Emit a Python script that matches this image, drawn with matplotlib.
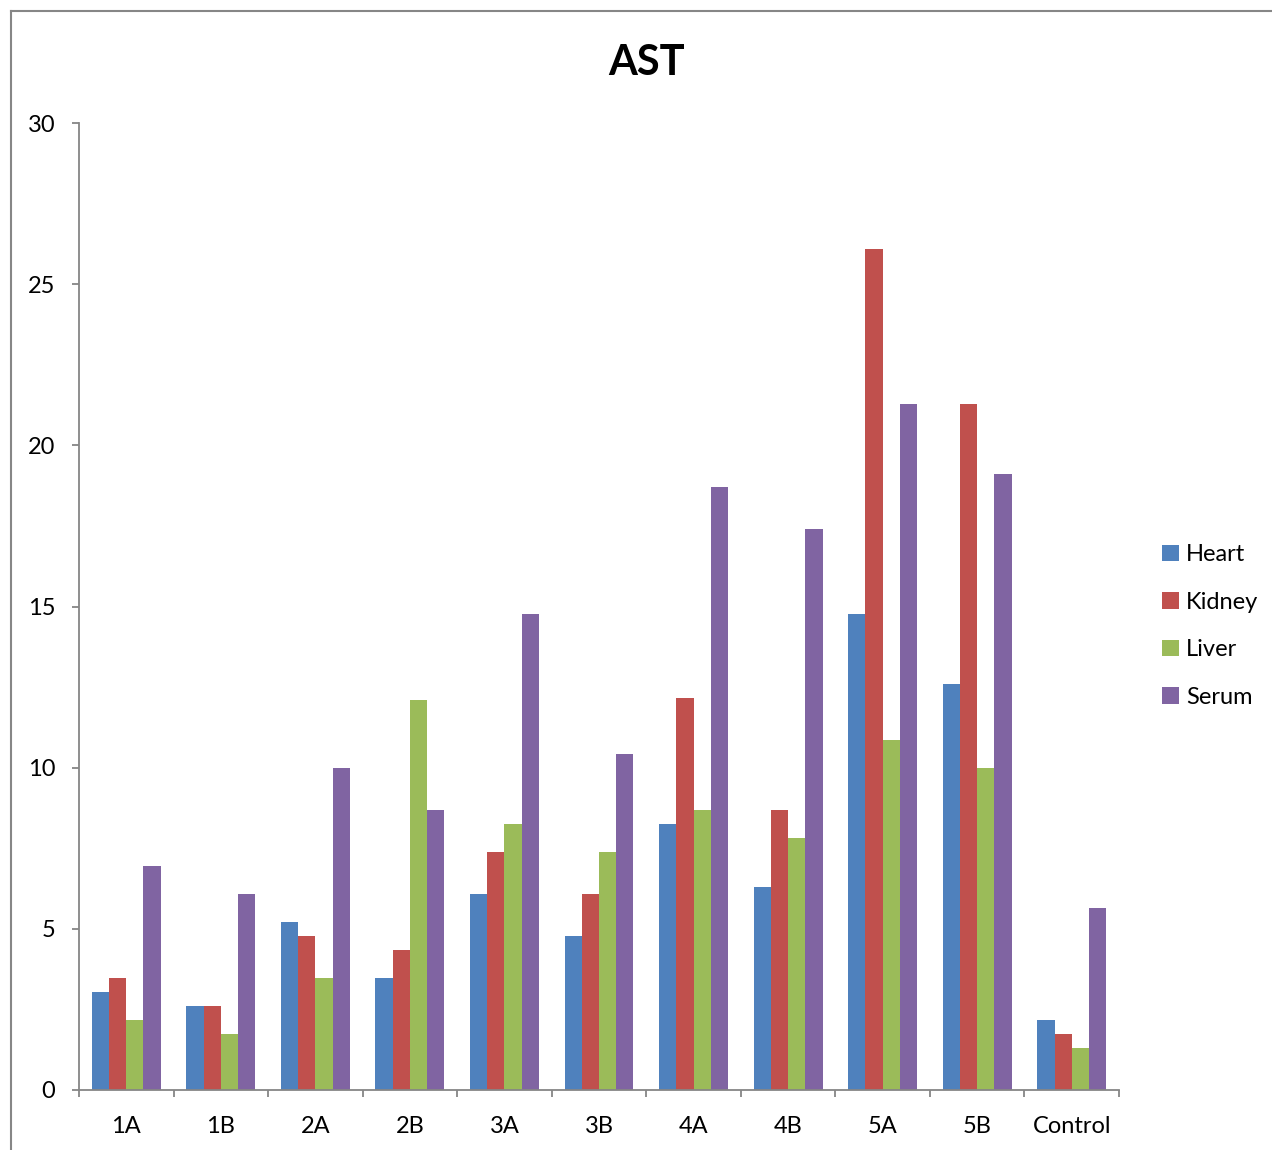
import matplotlib
matplotlib.use("Agg")
import matplotlib.pyplot as plt
import numpy as np
from matplotlib.lines import Line2D
from matplotlib.patches import Patch

plt.rcParams['font.family'] = ['Lato', 'DejaVu Sans']

categories = ['1A', '1B', '2A', '2B', '3A', '3B', '4A', '4B', '5A', '5B', 'Control']
heart  = [3.04, 2.60, 5.21, 3.47, 6.08, 4.78, 8.25, 6.30, 14.77, 12.60, 2.17]
kidney = [3.47, 2.60, 4.78, 4.34, 7.38, 6.08, 12.16, 8.69, 26.09, 21.28, 1.74]
liver  = [2.17, 1.74, 3.47, 12.10, 8.25, 7.38, 8.69, 7.82, 10.86, 9.99, 1.30]
serum  = [6.95, 6.08, 9.99, 8.69, 14.77, 10.43, 18.71, 17.41, 21.28, 19.11, 5.65]

series_names = ['Heart', 'Kidney', 'Liver', 'Serum']
series = [heart, kidney, liver, serum]
colors = ['#4F81BD', '#C0504D', '#9BBB59', '#8064A2']

W, H = 1272, 1150
fig = plt.figure(figsize=(W / 100, H / 100), dpi=100)
ax = fig.add_axes([79 / W, 60 / H, (1119 - 79) / W, (1090 - 123) / H])

x = np.arange(len(categories))
bw = 0.182
for i, (vals, c) in enumerate(zip(series, colors)):
    ax.bar(x + (i - 1.5) * bw, vals, width=bw, color=c, linewidth=0)

axis_gray = '#868686'
ax.set_xlim(-0.5, len(categories) - 0.5)
ax.set_ylim(0, 30)
ax.set_yticks(range(0, 31, 5))
ax.set_xticks(x)
ax.set_xticklabels(categories)
ax.set_xticks(np.arange(-0.5, len(categories), 1.0), minor=True)

for side in ['top', 'right']:
    ax.spines[side].set_visible(False)
for side in ['left', 'bottom']:
    ax.spines[side].set_color(axis_gray)
    ax.spines[side].set_linewidth(1.3)

ax.tick_params(axis='y', direction='out', length=5, width=1.3, color=axis_gray,
               labelsize=17, pad=12)
ax.tick_params(axis='x', which='major', length=0, labelsize=17, pad=18.5)
ax.tick_params(axis='x', which='minor', direction='out', length=5, width=1.3,
               color=axis_gray)

fig.text(647 / W, 1 - 63 / H, 'AST', ha='center', va='center',
         fontsize=30, fontweight='bold')

handles = [Patch(facecolor=c, edgecolor='none') for c in colors]
fig.legend(handles, series_names, loc='center left',
           bbox_to_anchor=(1153 / W, 1 - 626 / H), frameon=False,
           fontsize=17, handlelength=0.7, handleheight=0.7,
           handletextpad=0.3, labelspacing=1.12, borderaxespad=0)

# outer chart frame
fig.add_artist(Line2D([11 / W, 1.0], [1 - 11 / H, 1 - 11 / H],
                      transform=fig.transFigure, color=axis_gray, linewidth=1.5))
fig.add_artist(Line2D([11 / W, 11 / W], [0.0, 1 - 11 / H],
                      transform=fig.transFigure, color=axis_gray, linewidth=1.5))

fig.savefig('out.png', dpi=100)
